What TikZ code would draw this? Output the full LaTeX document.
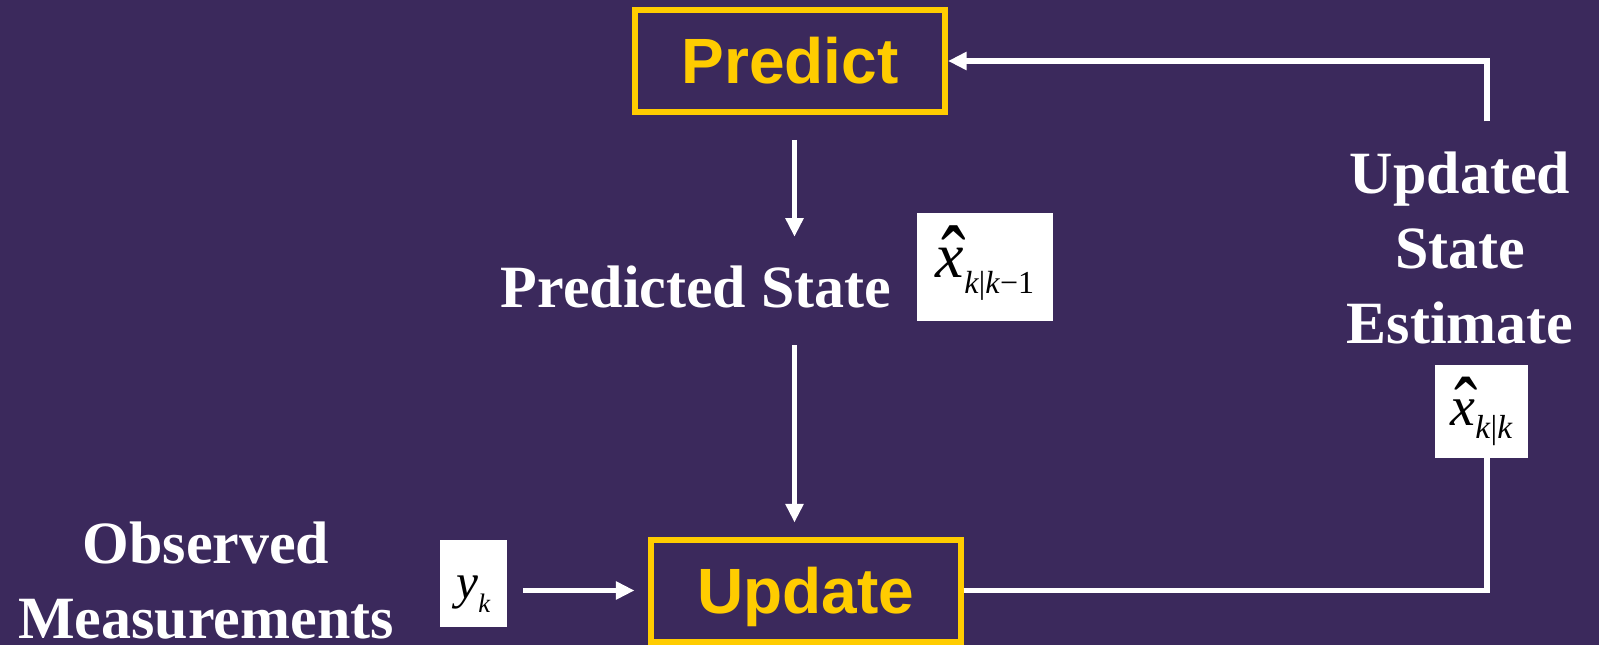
\documentclass[tikz,border=0pt]{standalone}
\usepackage{fontspec}
\usepackage{graphicx}
\setmainfont{Liberation Serif}
\newfontfamily\headfont{Liberation Sans}
\usetikzlibrary{arrows.meta,calc}

\definecolor{bgpurple}{RGB}{59,41,92}
\definecolor{kfyellow}{RGB}{255,204,0}

% x with a hat: #1 raise of the hat, #2/#3 horizontal/vertical scale of the hat
\newcommand{\hatx}[3]{\makebox[0pt][l]{\hspace*{0.08em}\raisebox{#1}{\scalebox{#2}[#3]{\upshape\char"02C6}}}\textit{x}}

\tikzset{
  stagebox/.style={draw=kfyellow, line width=4.5pt, text=kfyellow,
    font=\headfont\bfseries\fontsize{48}{48}\selectfont,
    minimum width=232.5pt, minimum height=76.5pt,
    text height=34.4pt, text depth=0pt, inner sep=0pt},
  mathbox/.style={fill=white, text=black, inner sep=0pt},
  lbl/.style={text=white, font=\bfseries\fontsize{45}{56.25}\selectfont, inner sep=0pt},
  wire/.style={draw=white, line width=4.1pt},
  arr/.style={wire, -{Triangle[width=13pt, length=14pt]}},
}

\begin{document}
\begin{tikzpicture}[x=0.75pt, y=-0.75pt]
  % canvas
  \fill[bgpurple] (0,0) rectangle (1599,645);
  \useasboundingbox (0,0) rectangle (1599,645);

  % the two stages
  \node[stagebox] (predict) at (790,61) {Predict};
  \node[stagebox] (update) at (805.5,590.5) {Update};

  % predicted state
  \node[lbl, anchor=base, text height=30.5pt, text depth=0pt] (pstate) at (696,307) {Predicted State};
  \node[mathbox, minimum width=102pt, minimum height=81pt, text height=35pt, text depth=20pt] (xpred) at (985,267)
    {\fontsize{48}{48}\selectfont\hatx{-0.24em}{1.15}{1.5}\raisebox{-12.75pt}{\fontsize{24}{24}\selectfont\textit{k}|\textit{k}−1}};

  % measurements
  \node[lbl, align=center, anchor=north] (obs) at (206,521.5) {Observed\\Measurements};
  \node[mathbox, minimum width=50.25pt, minimum height=65.25pt, text height=36pt, text depth=14.25pt] (yk) at (473.5,583.5)
    {\fontsize{37}{37}\selectfont\textit{y}\raisebox{-10.5pt}{\fontsize{20}{20}\selectfont\textit{k}}};

  % updated estimate
  \node[lbl, align=center, anchor=north] (estlbl) at (1460,151.4) {Updated\\State\\Estimate};
  \node[mathbox, minimum size=69.75pt, text height=35pt, text depth=14.75pt] (xest) at (1481.5,411.5)
    {\fontsize{42}{42}\selectfont\hatx{-0.22em}{1.25}{1.55}\raisebox{-9.75pt}{\fontsize{25}{25}\selectfont\textit{k}|\textit{k}}};

  % columns of the vertical connectors
  \coordinate (col) at (794.5,0);
  \coordinate (fcol) at (1487,0);

  % connectors
  \draw[arr, shorten <=18.75pt, shorten >=22pt] (predict.south -| col) -- (pstate.north -| col);
  \draw[arr, shorten <=28.5pt, shorten >=10.5pt] (pstate.south -| col) -- (update.north -| col);
  \draw[arr, shorten <=12pt, shorten >=9.75pt] (yk.east |- update.west) -- (update.west);
  \draw[wire] (update.east) -| (xest.south -| fcol);
  \draw[arr, shorten <=22.5pt] (estlbl.north -| fcol) |- (predict.east);
\end{tikzpicture}
\end{document}
